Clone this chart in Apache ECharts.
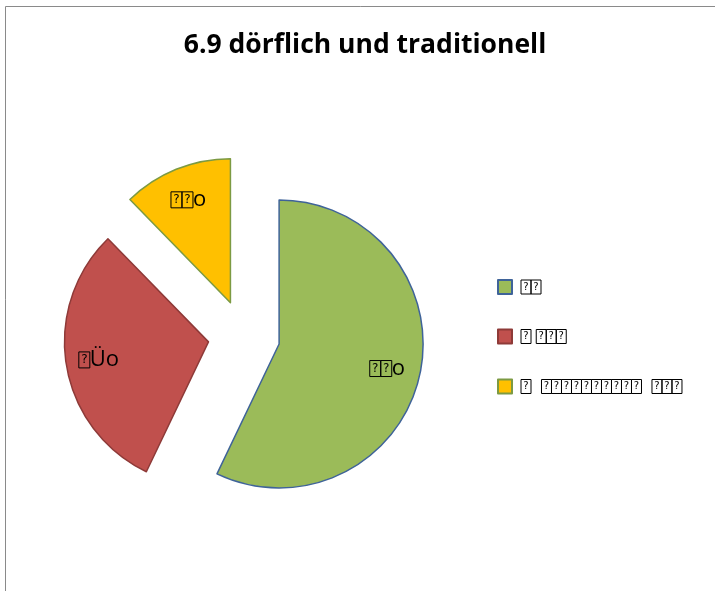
<!DOCTYPE html>
<html>
<head>
<meta charset="utf-8">
<title>6.9 dörflich und traditionell</title>
<script src="https://cdn.jsdelivr.net/npm/echarts@6/dist/echarts.min.js"></script>
<style>
  html, body { margin: 0; padding: 0; background: #fff; }
  #chart { width: 715px; height: 591px; }
</style>
</head>
<body>
<div id="chart"></div>
<script>
// Answer categories (the source file shows them only as missing-glyph boxes, written here as '?')
const categories = ['??', '? ???', '?  ??????????  ???'];
// Share of answers per category, in percent
const shares = [57.1, 30.6, 12.3];
// Slice labels as they appear on the slices
const sliceLabels = ['??o', '?Üo', '??o'];
const fills = ['#9BBB59', '#C0504D', '#FFC000'];
const outlines = ['#3F6399', '#8E3A38', '#7C9A43'];

const chart = echarts.init(document.getElementById('chart'), null, { renderer: 'canvas' });

const R = 144;
const EXPLODE = 36;
const total = shares.reduce((a, b) => a + b, 0);

// mid angle of each slice, measured clockwise from 12 o'clock
function midAngle(idx) {
  let acc = 0;
  for (let i = 0; i < idx; i++) acc += shares[i];
  return (acc + shares[idx] / 2) / total * 2 * Math.PI;
}

// turn a string into rich text, drawing every '?' as a boxed glyph
function toRich(str, boxKey, textKey) {
  return str.split('').map(ch => {
    if (ch === '?') return '{' + boxKey + '|?}';
    if (ch === ' ') return ' ';
    return '{' + textKey + '|' + ch + '}';
  }).join('');
}

const option = {
  animation: false,
  backgroundColor: '#fff',
  graphic: [{
    type: 'rect',
    silent: true,
    shape: { x: 5.5, y: 6.5, width: 800, height: 700 },
    style: { fill: 'none', stroke: '#8a8a8a', lineWidth: 1 }
  }],
  title: {
    text: '6.9 dörflich und traditionell',
    left: 360,
    textAlign: 'center',
    top: 27,
    textStyle: {
      fontFamily: 'Open Sans',
      fontWeight: 'bold',
      fontSize: 26.5,
      color: '#000'
    }
  },
  legend: {
    orient: 'vertical',
    left: 497,
    top: 279,
    padding: 0,
    icon: 'rect',
    itemWidth: 14,
    itemHeight: 14,
    itemGap: 33,
    selectedMode: false,
    data: categories,
    formatter: name => toRich(name, 'q', 't'),
    textStyle: {
      fontFamily: 'DejaVu Sans',
      fontSize: 16.5,
      color: '#000',
      padding: [0, 0, 0, 4],
      rich: {
        q: {
          fontFamily: 'DejaVu Sans',
          fontSize: 10,
          color: '#000',
          width: 10,
          height: 14,
          lineHeight: 14,
          align: 'center',
          borderColor: '#000',
          borderWidth: 1
        },
        t: { fontSize: 16.5, color: '#000' }
      }
    }
  },
  series: [{
    type: 'pie',
    center: [244, 336],
    radius: R,
    startAngle: 90,
    clockwise: true,
    selectedMode: 'multiple',
    selectedOffset: EXPLODE,
    avoidLabelOverlap: false,
    emphasis: { disabled: true },
    labelLine: { show: false },
    label: {
      show: true,
      position: 'inside',
      formatter: p => toRich(sliceLabels[p.dataIndex], 'b', 'c'),
      rich: {
        b: {
          fontFamily: 'DejaVu Sans',
          fontSize: 12,
          color: '#000',
          width: 11,
          height: 16,
          lineHeight: 16,
          align: 'center',
          borderColor: '#000',
          borderWidth: 1
        },
        c: {
          fontFamily: 'Open Sans',
          fontSize: 22,
          color: '#000'
        }
      }
    },
    labelLayout: params => {
      const a = midAngle(params.dataIndex);
      return { dx: EXPLODE * Math.sin(a), dy: -EXPLODE * Math.cos(a) };
    },
    data: shares.map((v, i) => ({
      value: v,
      name: categories[i],
      selected: true,
      itemStyle: {
        color: fills[i],
        borderColor: outlines[i],
        borderWidth: 1.5
      }
    }))
  }]
};

chart.setOption(option);
</script>
</body>
</html>
